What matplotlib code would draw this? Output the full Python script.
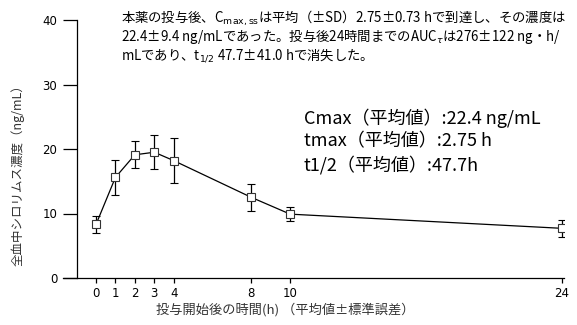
import matplotlib
matplotlib.use('Agg')
import matplotlib.pyplot as plt

plt.rcParams['font.family'] = ['Noto Sans CJK JP', 'DejaVu Sans']
plt.rcParams['mathtext.fontset'] = 'dejavusans'

# 全血中シロリムス濃度（平均値±標準誤差）
hours = [0, 1, 2, 3, 4, 8, 10, 24]
conc = [8.3, 15.6, 19.1, 19.5, 18.2, 12.5, 9.9, 7.7]
sem = [1.3, 2.7, 2.1, 2.65, 3.5, 2.1, 1.1, 1.3]
yticks = [0, 10, 20, 30, 40]

summary = [
    '本薬の投与後、C$_{\\mathrm{max,ss}}$は平均（±SD）2.75±0.73 hで到達し、その濃度は',
    '22.4±9.4 ng/mLであった。投与後24時間までのAUC$_{\\tau}$は276±122 ng・h/',
    'mLであり、t$_{1/2}$ 47.7±41.0 hで消失した。',
]
pk_params = [
    'Cmax（平均値）:22.4 ng/mL',
    'tmax（平均値）:2.75 h',
    't1/2（平均値）:47.7h',
]


def plot_conc():
    fig = plt.figure(figsize=(5.77, 3.25), dpi=100)
    ax = fig.add_axes([63 / 577, 47 / 325, 501 / 577, 258 / 325])

    ax.errorbar(hours, conc, yerr=sem, color='black', lw=0.9,
                elinewidth=0.9, capsize=3, capthick=0.9,
                marker='s', ms=5.5, mfc='white', mec='#333333', mew=0.8)

    ax.set_xlim(-1.7, 24.1)
    ax.set_ylim(0, 40)
    ax.set_xticks(hours)
    ax.set_yticks(yticks)

    ax.spines['top'].set_visible(False)
    ax.spines['right'].set_visible(False)
    ax.spines['left'].set_position(('data', -1))
    ax.spines['left'].set_linewidth(0.9)
    ax.spines['bottom'].set_linewidth(0.9)
    ax.tick_params(axis='y', length=10, width=0.9, pad=4, labelsize=8.5)
    ax.tick_params(axis='x', length=3.5, width=0.9, pad=3, labelsize=8.5)
    for lab in ax.get_xticklabels() + ax.get_yticklabels():
        lab.set_family('DejaVu Sans')

    fig.text(18 / 577, 1 - 172 / 325, '全血中シロリムス濃度（ng/mL）',
             rotation=90, ha='center', va='center', fontsize=9, color='#333333')
    fig.text(285 / 577, 1 - 310 / 325, '投与開始後の時間(h) （平均値±標準誤差）',
             ha='center', va='center', fontsize=9.5, color='#333333')

    for i, line in enumerate(summary):
        fig.text(121 / 577, 1 - (18 + 18.5 * i) / 325, line,
                 ha='left', va='center', fontsize=9.6)
    for i, line in enumerate(pk_params):
        fig.text(304 / 577, 1 - (118 + 23.5 * i) / 325, line,
                 ha='left', va='center', fontsize=13)

    fig.savefig('out.png', dpi=100)


if __name__ == '__main__':
    plot_conc()
